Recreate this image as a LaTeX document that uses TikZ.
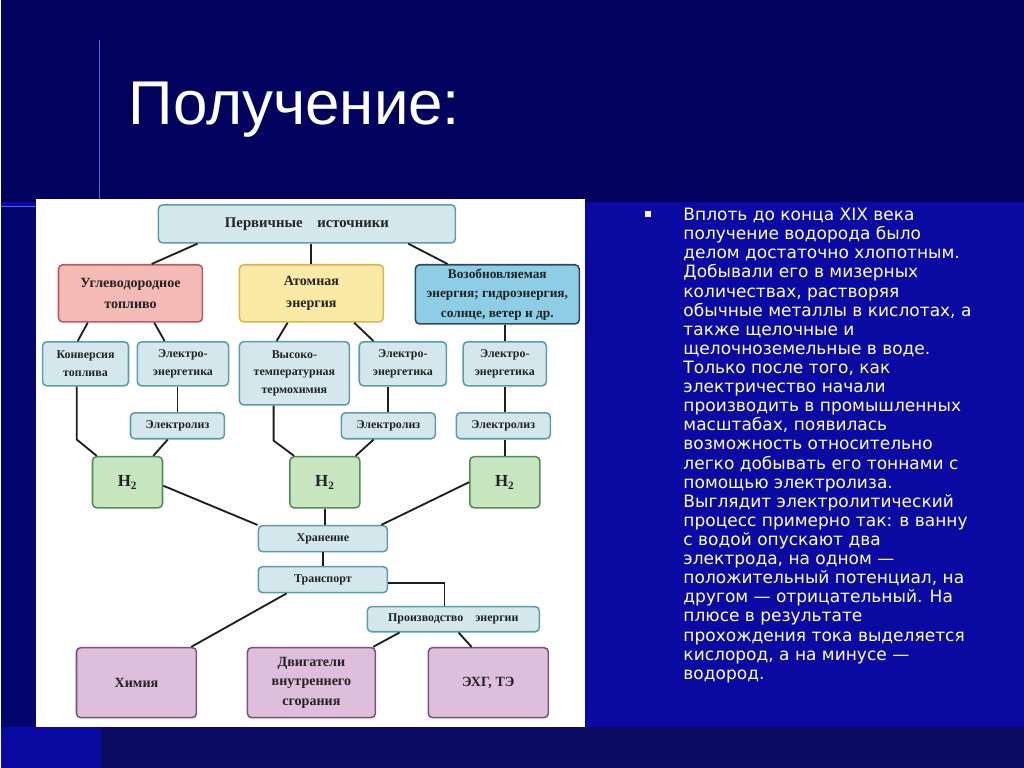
\documentclass[tikz,border=0pt]{standalone}
\usepackage{fontspec}
\setmainfont{Liberation Serif}
\newfontfamily\slidefont{DejaVu Sans}
\newfontfamily\titlefont{Liberation Sans}
\usepackage{tikz}
\usetikzlibrary{calc,positioning}
\definecolor{slidenavy}{HTML}{02025E}
\definecolor{slideblue}{HTML}{0A0AA2}
\definecolor{stripnavy}{HTML}{04046E}
\definecolor{footnavy}{HTML}{0A0A60}
\definecolor{glowline}{HTML}{4A6AF0}
\definecolor{palefill}{HTML}{D4E7EC}
\definecolor{paleline}{HTML}{5B9EA6}
\definecolor{fuelfill}{HTML}{F4BAB6}
\definecolor{fuelline}{HTML}{B85C5C}
\definecolor{atomfill}{HTML}{FBEAA6}
\definecolor{atomline}{HTML}{D6B850}
\definecolor{renewfill}{HTML}{8DCDE6}
\definecolor{renewline}{HTML}{2E4A5A}
\definecolor{gasfill}{HTML}{C7E5BF}
\definecolor{gasline}{HTML}{4F8F55}
\definecolor{usefill}{HTML}{DDBEDC}
\definecolor{useline}{HTML}{7C527A}
\definecolor{blocktext}{HTML}{222222}
\definecolor{linkcol}{HTML}{1E1E1E}
\definecolor{bulletcol}{HTML}{F4F4D8}

\begin{document}
\begin{tikzpicture}[x=0.025cm, y=-0.025cm,
  block/.style={draw, line width=1.1pt, rounded corners=3pt, align=center, inner sep=1pt, text=blocktext, font=\bfseries\fontsize{8.5}{12.5}\selectfont},
  pale/.style={block, fill=palefill, draw=paleline},
  fuel/.style={block, fill=fuelfill, draw=fuelline, font=\bfseries\fontsize{10}{15}\selectfont},
  atom/.style={block, fill=atomfill, draw=atomline, font=\bfseries\fontsize{10}{15}\selectfont},
  renew/.style={block, fill=renewfill, draw=renewline, font=\bfseries\fontsize{9.5}{14}\selectfont},
  gas/.style={block, fill=gasfill, draw=gasline, font=\bfseries\fontsize{12}{14}\selectfont},
  usebox/.style={block, fill=usefill, draw=useline, font=\bfseries\fontsize{10}{14}\selectfont},
  link/.style={line width=1.3pt, linkcol}
]
  % slide background
  \fill[slidenavy] (0,0) rectangle (1024,768);
  \fill[slideblue] (0,202) rectangle (1024,768);
  \fill[stripnavy] (0,207) rectangle (35,727);
  \fill[footnavy] (100,727) rectangle (1024,768);
  \draw[glowline, line width=0.8pt] (99,40) -- (99,202);
  \draw[glowline, line width=0.8pt] (0,207) -- (35,207);
  \fill[white] (35,199) rectangle (585,727);

  \node[font=\titlefont\fontsize{44}{50}\selectfont, text=white, anchor=base west, inner sep=0] (title) at (128,125) {Получение:};

  \node[pale, minimum width=7.43cm, minimum height=0.95cm, font=\bfseries\fontsize{10.5}{13}\selectfont] (prim) at (306.5,224) {Первичные\quad источники};
  \node[fuel, minimum width=3.6cm, minimum height=1.43cm] (hydro) at (130,293.5) {Углеводородное\\топливо};
  \node[atom, minimum width=3.6cm, minimum height=1.43cm] (atom) at (311,293.5) {Атомная\\энергия};
  \node[renew, minimum width=4.1cm, minimum height=1.48cm] (renew) at (497,294.5) {Возобновляемая\\энергия; гидроэнергия,\\солнце, ветер и др.};

  \node[pale, minimum width=2.15cm, minimum height=1.1cm] (conv) at (85,364) {Конверсия\\топлива};
  \node[pale, minimum width=2.28cm, minimum height=1.1cm] (elone) at (182.5,364) {Электро-\\энергетика};
  \node[pale, minimum width=2.75cm, minimum height=1.58cm] (therm) at (294,373.5) {Высоко-\\температурная\\термохимия};
  \node[pale, minimum width=2.18cm, minimum height=1.1cm] (eltwo) at (402.5,364) {Электро-\\энергетика};
  \node[pale, minimum width=2.08cm, minimum height=1.1cm] (elthree) at (504.5,364) {Электро-\\энергетика};

  \node[pale, minimum width=2.35cm, minimum height=0.65cm] (lysone) at (177,426) {Электролиз};
  \node[pale, minimum width=2.35cm, minimum height=0.65cm] (lystwo) at (388,426) {Электролиз};
  \node[pale, minimum width=2.35cm, minimum height=0.65cm] (lysthree) at (503,426) {Электролиз};

  \node[gas, minimum width=1.75cm, minimum height=1.28cm] (hone) at (127,482.5) {H\textsubscript{2}};
  \node[gas, minimum width=1.75cm, minimum height=1.28cm] (htwo) at (324.5,482.5) {H\textsubscript{2}};
  \node[gas, minimum width=1.75cm, minimum height=1.28cm] (hthree) at (504.5,482.5) {H\textsubscript{2}};

  \node[pale, minimum width=3.23cm, minimum height=0.65cm] (store) at (322.5,539) {Хранение};
  \node[pale, minimum width=3.23cm, minimum height=0.65cm] (trans) at (322.5,580) {Транспорт};
  \node[pale, minimum width=4.3cm, minimum height=0.63cm] (prod) at (453,619.5) {Производство\quad энергии};

  \node[usebox, minimum width=3cm, minimum height=1.75cm] (chem) at (136,683) {Химия};
  \node[usebox, minimum width=3.2cm, minimum height=1.75cm] (engine) at (311,683) {Двигатели\\внутреннего\\сгорания};
  \node[usebox, minimum width=3cm, minimum height=1.75cm] (fc) at (488,683) {ЭХГ, ТЭ};

  \draw[link] ($(prim.south west)+(40,0)$) -- ($(hydro.north west)+(94,0)$);
  \draw[link] (atom.north |- prim.south) -- (atom.north);
  \draw[link] ($(prim.south east)+(-48,0)$) -- ($(renew.north west)+(33,0)$);
  \draw[link] ($(hydro.south west)+(30,0)$) -- ($(conv.north west)+(36,0)$);
  \draw[link] ($(hydro.south east)+(-49,0)$) -- ($(elone.north west)+(28,0)$);
  \draw[link] ($(atom.south west)+(49,0)$) -- ($(therm.north west)+(38,0)$);
  \draw[link] ($(atom.south east)+(-30,0)$) -- ($(eltwo.north west)+(15,0)$);
  \draw[link] (elthree.north |- renew.south) -- (elthree.north);

  \draw[link] ($(conv.south west)+(35,0)$) -- ++(0,53) -- ($(hone.north west)+(5,0)$);
  \draw[link] (lysone.north |- elone.south) -- (lysone.north);
  \draw[link] ($(lysone.south west)+(38,0)$) -- ($(hone.north east)+(-10,0)$);
  \draw[link] ($(therm.south west)+(35,0)$) -- ++(0,35) -- ($(htwo.north west)+(5,0)$);
  \draw[link] (lystwo.north |- eltwo.south) -- (lystwo.north);
  \draw[link] ($(lystwo.south west)+(33,0)$) -- ($(htwo.north east)+(-5,0)$);
  \draw[link] (elthree.south) -- (elthree.south |- lysthree.north);
  \draw[link] (hthree.north |- lysthree.south) -- (hthree.north);

  \draw[link] ($(hone.east)+(0,3.5)$) -- (store.north west);
  \draw[link] (htwo.south) -- (htwo.south |- store.north);
  \draw[link] (hthree.west) -- ($(store.north east)+(-7,0)$);
  \draw[link] (store.south) -- (trans.north);
  \draw[link] ($(trans.east)+(0,3)$) -| ($(prod.north west)+(78,0)$);
  \draw[link] ($(trans.south west)+(29,0)$) -- ($(chem.north east)+(-6,0)$);
  \draw[link] ($(prod.south west)+(33,0)$) -- ($(engine.north east)+(-3,0)$);
  \draw[link] ($(prod.south west)+(92,0)$) -- ($(fc.north west)+(44,0)$);

  \node[fill=bulletcol, minimum size=0.16cm, inner sep=0] (dot) at (648,214) {};
  \node[anchor=north west, inner sep=0, align=left, text=white, font=\slidefont\fontsize{12.1}{13.6}\selectfont] (body) at (683,208) {Вплоть до конца XIX века\\получение водорода было\\делом достаточно хлопотным.\\Добывали его в мизерных\\количествах, растворяя\\обычные металлы в кислотах, а\\также щелочные и\\щелочноземельные в воде.\\Только после того, как\\электричество начали\\производить в промышленных\\масштабах, появилась\\возможность относительно\\легко добывать его тоннами с\\помощью электролиза.\\Выглядит электролитический\\процесс примерно так: в ванну\\с водой опускают два\\электрода, на одном —\\положительный потенциал, на\\другом — отрицательный. На\\плюсе в результате\\прохождения тока выделяется\\кислород, а на минусе —\\водород.};
\end{tikzpicture}
\end{document}
